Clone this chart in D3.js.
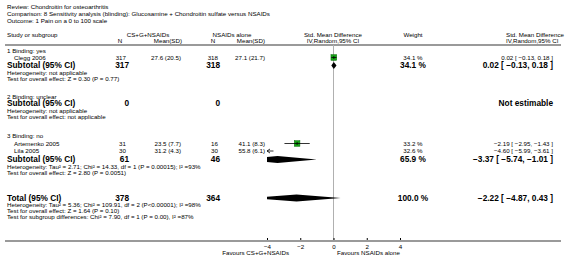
<!DOCTYPE html>
<html>
<head>
<meta charset="utf-8">
<script src="https://cdn.jsdelivr.net/npm/d3@7"></script>
<style>
  body { margin: 0; background: #fff; }
  svg { display: block; font-family: "Liberation Sans", Arial, sans-serif; }
  .sm { font-size: 6.2px; fill: #000; }
  .bd { font-size: 8.3px; font-weight: bold; fill: #000; }
</style>
</head>
<body>
<script>
// ---- data ----
const studies = ["Clegg 2006", "Artemenko 2005", "Lila 2005"];
const studyGroup = [0, 2, 2];
const expN = [317, 31, 30];
const expMean = ["27.6 (20.5)", "23.5 (7.7)", "31.2 (4.3)"];
const ctlN = [318, 16, 30];
const ctlMean = ["27.1 (21.7)", "41.1 (8.3)", "55.8 (6.1)"];
const weights = [34.1, 33.2, 32.6];
const smd = [0.02, -2.19, -4.60];
const smdLo = [-0.13, -2.95, -5.99];
const smdHi = [0.18, -1.43, -3.61];

const groups = ["1 Binding: yes", "2 Binding: unclear", "3 Binding: no"];
const groupN1 = [317, 0, 61];
const groupN2 = [318, 0, 46];
const groupWeight = [34.1, null, 65.9];
const groupSmd = [0.02, null, -3.37];
const groupLo = [-0.13, null, -5.74];
const groupHi = [0.18, null, -1.01];
const groupHet = [
  "Heterogeneity: not applicable",
  "Heterogeneity: not applicable",
  "Heterogeneity: Tau\u00b2 = 2.71; Chi\u00b2 = 14.33, df = 1 (P = 0.00015); I\u00b2 =93%"
];
const groupTest = [
  "Test for overall effect: Z = 0.30 (P = 0.77)",
  "Test for overall effect: not applicable",
  "Test for overall effect: Z = 2.80 (P = 0.0051)"
];

const totalN1 = 378, totalN2 = 364, totalWeight = 100.0;
const totalSmd = -2.22, totalLo = -4.87, totalHi = 0.43;
const totalNotes = [
  "Heterogeneity: Tau\u00b2 = 5.36; Chi\u00b2 = 109.91, df = 2 (P<0.00001); I\u00b2 =98%",
  "Test for overall effect: Z = 1.64 (P = 0.10)",
  "Test for subgroup differences: Chi\u00b2 = 7.90, df = 1 (P = 0.00), I\u00b2 =87%"
];
const headerLines = [
  "Review:  Chondroitin for osteoarthritis",
  "Comparison:  8 Sensitivity analysis (blinding): Glucosamine + Chondroitin sulfate versus NSAIDs",
  "Outcome:  1 Pain on a 0 to 100 scale"
];
const tickValues = [-4, -2, 0, 2, 4];
const favours = ["Favours CS+G+NSAIDs", "Favours NSAIDs alone"];

// ---- layout ----
const width = 566, height = 276;
const svg = d3.select("body").append("svg").attr("width", width).attr("height", height);

const x = d3.scaleLinear().domain([-4, 4]).range([267, 400]);
const fmt = d3.format(".2f");
const ci = (m, l, h) => `${fmt(m)} [ ${fmt(l)}, ${fmt(h)} ]`;

const col = {left: 7, study: 14, n1: 126, m1: 181, n2: 218, m2: 265, w: 413, ci: 553};
const yRule = 45, yAxis = 241;

// row y positions (text centre) for each block
const groupRows = [
  {label: 50.5, studies: [57.5], sub: 65.5, het: 72.5, test: 78.5},
  {label: 96.5, studies: [], sub: 103.5, het: 110.5, test: 116.5},
  {label: 135.5, studies: [143.5, 151], sub: 159.5, het: 166.5, test: 172.5}
];
const totalRow = {sub: 198, notes: [205, 211, 217]};

function txt(xp, yp, s, cls, anchor) {
  return svg.append("text").attr("class", cls || "sm")
    .attr("x", xp).attr("y", yp).attr("dy", "0.35em")
    .attr("text-anchor", anchor || "start").text(s);
}

// header text
headerLines.forEach((s, i) => txt(col.left, 7 + i * 7, s));
txt(col.left, 35, "Study or subgroup");
txt(148, 35, "CS+G+NSAIDs", "sm", "middle");
txt(232, 35, "NSAIDs alone", "sm", "middle");
txt(333, 35, "Std. Mean Difference", "sm", "middle");
txt(col.w, 35, "Weight", "sm", "middle");
txt(506, 35, "Std. Mean Difference");
txt(120, 41, "N", "sm", "middle");
txt(182, 41, "Mean(SD)", "sm", "end");
txt(213, 41, "N", "sm", "middle");
txt(265, 41, "Mean(SD)", "sm", "end");
txt(333, 41, "IV,Random,95% CI", "sm", "middle");
txt(506, 41, "IV,Random,95% CI");

svg.append("line").attr("x1", 5).attr("x2", 561).attr("y1", yRule).attr("y2", yRule)
  .attr("stroke", "#9a9a9a").attr("stroke-width", 2);

// zero line
svg.append("line").attr("x1", x(0)).attr("x2", x(0)).attr("y1", yRule).attr("y2", yAxis)
  .attr("stroke", "#b0b0b0").attr("stroke-width", 1);

svg.append("clipPath").attr("id", "plotclip").append("rect")
  .attr("x", x(-4)).attr("y", 0).attr("width", x(4) - x(-4)).attr("height", height);
const plot = svg.append("g").attr("clip-path", "url(#plotclip)");

function diamond(m, l, h, yc, hh) {
  const pts = [[x(l), yc], [x(m), yc - hh], [x(h), yc], [x(m), yc + hh]];
  plot.append("path").attr("d", d3.line()(pts) + "Z").attr("fill", "#000");
}

// groups
groups.forEach((g, gi) => {
  const r = groupRows[gi];
  txt(col.left, r.label, g);
  let k = 0;
  studies.forEach((s, si) => {
    if (studyGroup[si] !== gi) return;
    const yc = r.studies[k++];
    txt(col.study, yc, s);
    txt(col.n1, yc, expN[si], "sm", "end");
    txt(col.m1, yc, expMean[si], "sm", "end");
    txt(col.n2, yc, ctlN[si], "sm", "end");
    txt(col.m2, yc, ctlMean[si], "sm", "end");
    txt(col.w, yc, weights[si].toFixed(1) + " %", "sm", "middle");
    txt(col.ci, yc, ci(smd[si], smdLo[si], smdHi[si]), "sm", "end");
    const l = Math.max(smdLo[si], -4), h = Math.min(smdHi[si], 4);
    if (smd[si] >= -4 && smd[si] <= 4) {
      const sz = 3 + weights[si] * 0.08;
      svg.append("rect").attr("x", x(smd[si]) - sz / 2).attr("y", yc - sz / 2)
        .attr("width", sz).attr("height", sz)
        .attr("fill", "#17a317").attr("stroke", "#0a6a0a").attr("stroke-width", 0.5);
      svg.append("line").attr("x1", x(smd[si])).attr("x2", x(smd[si]))
        .attr("y1", yc - 1.5).attr("y2", yc + 1.5).attr("stroke", "#000").attr("stroke-width", 0.8);
    }
    // CI line
    svg.append("line").attr("x1", x(l)).attr("x2", x(h)).attr("y1", yc).attr("y2", yc)
      .attr("stroke", "#000").attr("stroke-width", 0.8);
    if (smdLo[si] < -4) {
      svg.append("path")
        .attr("d", d3.line()([[x(-4) + 3, yc - 2], [x(-4), yc], [x(-4) + 3, yc + 2]]))
        .attr("fill", "none").attr("stroke", "#000").attr("stroke-width", 0.8);
    }
  });
  txt(col.left, r.sub, "Subtotal (95% CI)", "bd");
  txt(col.n1 + 3, r.sub, groupN1[gi], "bd", "end");
  txt(col.n2 + 2, r.sub, groupN2[gi], "bd", "end");
  if (groupSmd[gi] === null) {
    txt(col.ci, r.sub, "Not estimable", "bd", "end");
  } else {
    txt(col.w, r.sub, groupWeight[gi].toFixed(1) + " %", "bd", "middle");
    txt(col.ci, r.sub, ci(groupSmd[gi], groupLo[gi], groupHi[gi]), "bd", "end");
    diamond(groupSmd[gi], groupLo[gi], groupHi[gi], r.sub, 3.5);
  }
  txt(col.left, r.het, groupHet[gi]);
  txt(col.left, r.test, groupTest[gi]);
});

// total
txt(col.left, totalRow.sub, "Total (95% CI)", "bd");
txt(col.n1 + 3, totalRow.sub, totalN1, "bd", "end");
txt(col.n2 + 2, totalRow.sub, totalN2, "bd", "end");
txt(col.w, totalRow.sub, totalWeight.toFixed(1) + " %", "bd", "middle");
txt(col.ci, totalRow.sub, ci(totalSmd, totalLo, totalHi), "bd", "end");
diamond(totalSmd, totalLo, totalHi, totalRow.sub, 3.5);
totalNotes.forEach((s, i) => txt(col.left, totalRow.notes[i], s));

// axis
svg.append("line").attr("x1", 5).attr("x2", 561).attr("y1", yAxis).attr("y2", yAxis)
  .attr("stroke", "#9a9a9a").attr("stroke-width", 2);
const axis = svg.append("g").attr("transform", `translate(0, ${yAxis - 1})`)
  .call(d3.axisBottom(x).tickValues(tickValues).tickSize(-2).tickPadding(5).tickFormat(d3.format("d")));
axis.select(".domain").remove();
axis.selectAll("line").attr("stroke", "#000");
axis.selectAll("text").attr("font-size", 6.2).attr("font-family", "Liberation Sans, Arial, sans-serif");

txt(289, 253, favours[0], "sm", "end");
txt(337, 253, favours[1]);
</script>
</body>
</html>
